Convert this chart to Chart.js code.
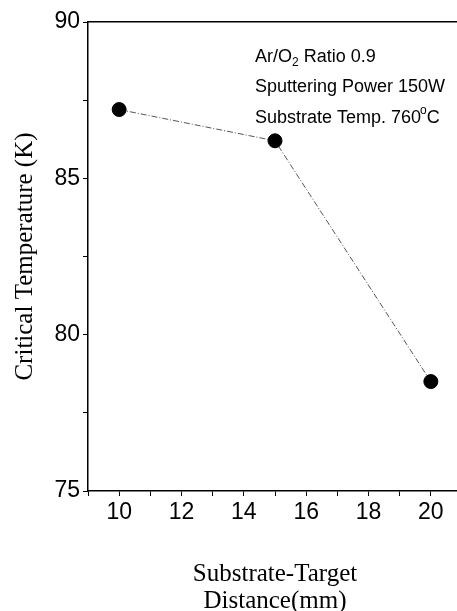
<!DOCTYPE html>
<html>
<head>
<meta charset="utf-8">
<script src="https://cdn.jsdelivr.net/npm/chart.js@4.4.1/dist/chart.umd.min.js"></script>
<style>
html, body { margin: 0; padding: 0; background: #fff; overflow: hidden; }
canvas { display: block; }
</style>
</head>
<body>
<canvas id="tcChart" width="470" height="611"></canvas>
<script>
const distances = [10, 15, 20];
const criticalTemps = [87.2, 86.2, 78.5];
const xTickLabels = [10, 12, 14, 16, 18, 20];
const yTickLabels = [75, 80, 85, 90];
// each note line is a list of [text, style] pieces; style '' / 'sub' / 'sup'
const notes = [
    [['Ar/O', ''], ['2', 'sub'], [' Ratio 0.9', '']],
    [['Sputtering Power 150W', '']],
    [['Substrate Temp. 760', ''], ['o', 'sup'], ['C', '']]
];

const ctx = document.getElementById('tcChart').getContext('2d');

const notesPlugin = {
    id: 'notes',
    afterDatasetsDraw(chart) {
        const c = chart.ctx;
        const area = chart.chartArea;
        let y = area.top + 35;
        c.save();
        c.fillStyle = '#000';
        c.textBaseline = 'middle';
        notes.forEach(line => {
            let x = area.left + 167;
            line.forEach(([txt, style]) => {
                let dy = 0;
                if (style === 'sub') { c.font = '12px "Liberation Sans"'; dy = 6; }
                else if (style === 'sup') { c.font = '12px "Liberation Sans"'; dy = -7; x -= 1; }
                else c.font = '18px "Liberation Sans"';
                c.fillText(txt, x, y + dy);
                x += c.measureText(txt).width;
            });
            y += 30.5;
        });
        c.restore();
    }
};

const frameAxis = {
    display: true,
    grid: { display: false, drawOnChartArea: false, drawTicks: false },
    border: { display: true, color: '#000', width: 1.5 },
    ticks: { display: false }
};

new Chart(ctx, {
    type: 'line',
    data: {
        datasets: [{
            data: distances.map((d, i) => ({ x: d, y: criticalTemps[i] })),
            borderColor: '#555',
            borderWidth: 1,
            borderDash: [6, 2, 1, 2],
            pointRadius: 7,
            pointBackgroundColor: '#000',
            pointBorderColor: '#000',
            tension: 0
        }]
    },
    options: {
        responsive: false,
        animation: false,
        layout: { padding: 0 },
        plugins: {
            legend: { display: false },
            tooltip: { enabled: false }
        },
        scales: {
            x: {
                type: 'linear',
                position: 'bottom',
                min: 9,
                max: 21,
                afterFit: s => { s.height = 120; },
                border: { color: '#000', width: 1.5 },
                grid: { drawOnChartArea: false, drawTicks: true, tickLength: 5, color: '#000' },
                ticks: {
                    stepSize: 1,
                    autoSkip: false,
                    maxRotation: 0,
                    padding: 3,
                    color: '#000',
                    font: { family: 'Liberation Sans', size: 23 },
                    callback: v => xTickLabels.includes(v) ? String(v) : ''
                },
                title: {
                    display: true,
                    text: ['Substrate-Target', 'Distance(mm)'],
                    color: '#000',
                    font: { family: 'Liberation Serif', size: 25, lineHeight: 1.08 },
                    padding: { top: 0, bottom: -4 }
                }
            },
            y: {
                position: 'left',
                min: 75,
                max: 90,
                afterFit: s => { s.width = 88; },
                border: { color: '#000', width: 1.5 },
                grid: { drawOnChartArea: false, drawTicks: true, tickLength: 5, color: '#000' },
                ticks: {
                    stepSize: 2.5,
                    autoSkip: false,
                    padding: 3,
                    color: '#000',
                    font: { family: 'Liberation Sans', size: 23 },
                    callback: v => yTickLabels.includes(v) ? String(v) : ''
                },
                title: {
                    display: true,
                    text: 'Critical Temperature (K)',
                    color: '#000',
                    font: { family: 'Liberation Serif', size: 25, lineHeight: 1.2 },
                    padding: { top: 10, bottom: 0 }
                }
            },
            x2: Object.assign({ position: 'top', afterFit: s => { s.height = 22; } }, frameAxis),
            y2: Object.assign({ position: 'right', afterFit: s => { s.width = 3; } }, frameAxis)
        }
    },
    plugins: [notesPlugin]
});
</script>
</body>
</html>
